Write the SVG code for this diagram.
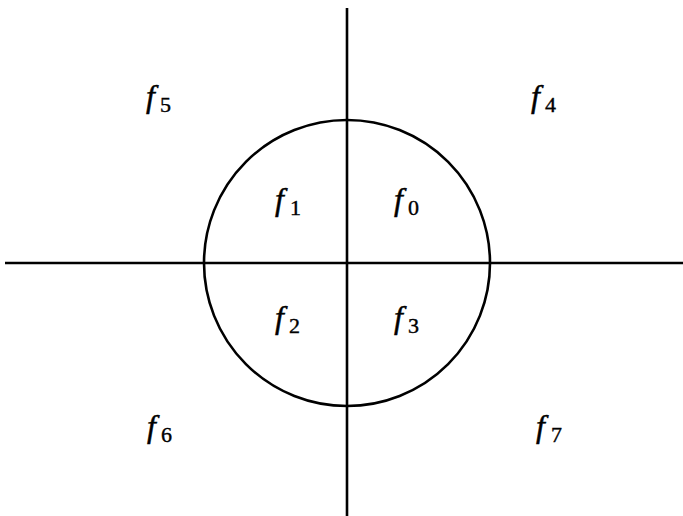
<svg xmlns="http://www.w3.org/2000/svg" width="683" height="516" viewBox="0 0 683 516">
<style>
.ln{stroke:#000;stroke-width:2.6;fill:none}
.f{font-family:"Liberation Serif","Times New Roman",serif;font-style:italic;font-size:32px;fill:#000;stroke:#000;stroke-width:0.5}
.s{font-style:normal;font-size:22px;stroke-width:0.4}
</style>
<rect width="683" height="516" fill="#fff"/>
<g id="connectors">
<line class="ln" x1="347" y1="8" x2="347" y2="516"/>
<line class="ln" x1="5" y1="263" x2="683" y2="263"/>
<circle class="ln" cx="347" cy="263" r="143"/>
</g>
<g id="f5"><text class="f" x="146" y="107">f<tspan class="s" x="160" dy="5">5</tspan></text></g>
<g id="f4"><text class="f" x="531" y="107">f<tspan class="s" x="545" dy="5">4</tspan></text></g>
<g id="f1"><text class="f" x="275" y="210">f<tspan class="s" x="290" dy="5">1</tspan></text></g>
<g id="f0"><text class="f" x="394" y="210">f<tspan class="s" x="408" dy="5">0</tspan></text></g>
<g id="f2"><text class="f" x="275" y="328">f<tspan class="s" x="289" dy="5">2</tspan></text></g>
<g id="f3"><text class="f" x="394" y="328">f<tspan class="s" x="408" dy="5">3</tspan></text></g>
<g id="f6"><text class="f" x="147" y="437">f<tspan class="s" x="161" dy="5">6</tspan></text></g>
<g id="f7"><text class="f" x="536" y="437">f<tspan class="s" x="551" dy="5">7</tspan></text></g>
</svg>
